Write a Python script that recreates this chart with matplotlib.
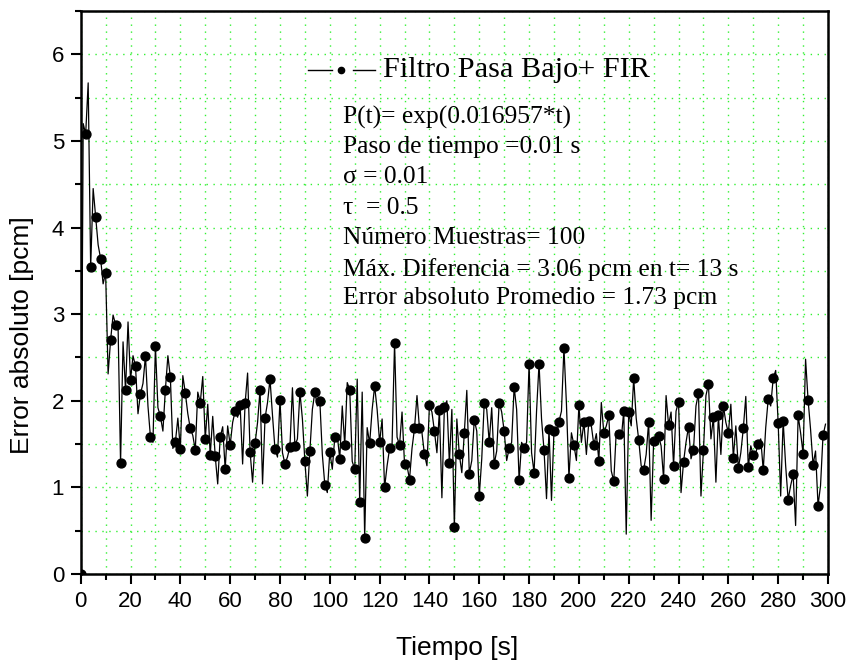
import numpy as np
import matplotlib
matplotlib.use("Agg")
import matplotlib.pyplot as plt
from matplotlib.ticker import MultipleLocator
from matplotlib.lines import Line2D

# Error values at even seconds (t = 0, 2, ..., 298) -> drawn with markers
even_err = [0.00, 5.08, 3.54, 4.12, 3.64, 3.48, 2.70, 2.88, 1.28, 2.12,
            2.24, 2.40, 2.08, 2.52, 1.58, 2.63, 1.82, 2.13, 2.27, 1.52,
            1.44, 2.09, 1.68, 1.43, 1.98, 1.56, 1.37, 1.36, 1.58, 1.21,
            1.49, 1.88, 1.95, 1.97, 1.41, 1.51, 2.13, 1.80, 2.25, 1.44,
            2.01, 1.27, 1.47, 1.48, 2.10, 1.30, 1.42, 2.10, 2.00, 1.03,
            1.41, 1.58, 1.33, 1.49, 2.13, 1.21, 0.83, 0.42, 1.51, 2.17,
            1.52, 1.00, 1.45, 2.67, 1.49, 1.27, 1.09, 1.68, 1.68, 1.38,
            1.95, 1.65, 1.89, 1.93, 1.28, 0.54, 1.38, 1.63, 1.16, 1.78,
            0.90, 1.98, 1.52, 1.27, 1.98, 1.65, 1.45, 2.16, 1.08, 1.46,
            2.43, 1.17, 2.43, 1.43, 1.67, 1.65, 1.76, 2.61, 1.11, 1.49,
            1.95, 1.75, 1.77, 1.49, 1.31, 1.63, 1.83, 1.07, 1.62, 1.88,
            1.87, 2.26, 1.55, 1.20, 1.76, 1.53, 1.59, 1.10, 1.72, 1.25,
            1.99, 1.29, 1.70, 1.43, 2.09, 1.43, 2.19, 1.81, 1.83, 1.94,
            1.63, 1.34, 1.22, 1.68, 1.23, 1.37, 1.50, 1.20, 2.02, 2.26,
            1.74, 1.77, 0.86, 1.15, 1.83, 1.39, 2.01, 1.26, 0.79, 1.60]

# Error values at odd seconds (t = 1, 3, ..., 299) -> line vertices only
odd_err = [5.20, 5.67, 4.45, 3.80, 3.35, 2.31, 2.99, 2.86, 2.68, 2.91,
           2.52, 1.85, 2.20, 1.94, 1.52, 1.92, 1.65, 2.52, 1.45, 1.80,
           2.29, 1.85, 1.60, 2.10, 2.28, 1.96, 1.82, 1.04, 1.70, 1.71,
           1.75, 1.81, 1.27, 2.32, 1.06, 1.75, 1.04, 1.98, 1.83, 1.35,
           1.40, 1.35, 2.15, 1.56, 1.79, 0.90, 1.90, 1.94, 1.38, 0.94,
           1.21, 1.60, 1.94, 2.21, 1.30, 2.25, 2.10, 1.69, 1.90, 1.90,
           1.79, 1.25, 1.50, 1.58, 1.87, 1.25, 1.45, 2.06, 1.63, 1.25,
           1.87, 1.40, 0.88, 2.00, 1.90, 1.79, 1.17, 2.12, 1.31, 1.65,
           1.33, 1.90, 1.92, 1.42, 1.87, 1.31, 1.52, 1.90, 1.52, 1.52,
           1.40, 1.88, 1.79, 0.87, 0.85, 1.60, 1.88, 1.96, 1.63, 1.31,
           1.52, 1.38, 1.71, 1.62, 1.98, 1.71, 1.19, 1.65, 1.56, 0.46,
           1.71, 1.80, 1.25, 1.38, 0.62, 1.52, 1.48, 2.06, 1.87, 1.88,
           0.94, 1.52, 1.33, 1.94, 0.90, 2.06, 1.56, 1.06, 1.38, 1.75,
           1.96, 1.71, 1.40, 2.05, 1.48, 1.40, 1.56, 1.69, 1.94, 2.35,
           0.90, 1.25, 1.02, 0.56, 1.63, 2.48, 1.67, 1.42, 1.02, 1.73]

time = np.arange(0, 300)
error = np.empty(300)
error[0::2] = even_err
error[1::2] = odd_err

legend_label = "Filtro Pasa Bajo+ FIR"
info_lines = ["P(t)= exp(0.016957*t)",
              "Paso de tiempo =0.01 s",
              "σ = 0.01",
              "τ  = 0.5",
              "Número Muestras= 100",
              "Máx. Diferencia = 3.06 pcm en t= 13 s",
              "Error absoluto Promedio = 1.73 pcm"]

W, H = 846, 666
fig = plt.figure(figsize=(W / 100, H / 100), dpi=100)
x0, x1, y0, y1 = 80.7, 828.0, 574.0, 11.0
ax = fig.add_axes([x0 / W, (H - y0) / H, (x1 - x0) / W, (y0 - y1) / H])

ax.plot(time, error, color="black", lw=0.9, marker="o", ms=6.4,
        markevery=2, markerfacecolor="black", markeredgecolor="black",
        zorder=3, clip_on=True)

ax.set_xlim(0, 300)
ax.set_ylim(0, 6.5)
ax.xaxis.set_major_locator(MultipleLocator(20))
ax.xaxis.set_minor_locator(MultipleLocator(10))
ax.yaxis.set_major_locator(MultipleLocator(1))
ax.yaxis.set_minor_locator(MultipleLocator(0.5))

ax.grid(which="both", color="#33f033", linestyle=(0, (1, 4)), lw=1.0, zorder=0)
ax.set_axisbelow(True)

for s in ax.spines.values():
    s.set_linewidth(1.8)
ax.tick_params(which="major", direction="out", length=7, width=1.5,
               labelsize=16, pad=5, top=False, right=False)
ax.tick_params(which="minor", direction="out", length=4, width=1.5,
               top=False, right=False)
for lab in ax.get_xticklabels() + ax.get_yticklabels():
    lab.set_fontfamily("Liberation Sans")

fig.text(457 / W, (H - 648) / H, "Tiempo [s]", ha="center", va="center",
         fontsize=19, family="Liberation Sans")
fig.text(22 / W, (H - 335) / H, "Error absoluto [pcm]", ha="center",
         va="center", rotation=90, fontsize=19, family="Liberation Sans")

def fx(px):
    return (px - x0) / (x1 - x0)

def fy(py):
    return (y0 - py) / (y0 - y1)

# legend entry drawn in axes fraction coordinates
ly = fy(70)
ax.add_line(Line2D([fx(308), fx(332)], [ly, ly], color="black", lw=1.0,
                   transform=ax.transAxes))
ax.add_line(Line2D([fx(341)], [ly], color="black", marker="o", ms=4.5,
                   transform=ax.transAxes))
ax.add_line(Line2D([fx(353), fx(375)], [ly, ly], color="black", lw=1.0,
                   transform=ax.transAxes))
ax.text(fx(383), ly, legend_label, transform=ax.transAxes, ha="left",
        va="center", fontsize=21.8, family="Liberation Serif")

centers = [117, 147, 177, 208, 238, 270, 298]
for line, cy in zip(info_lines, centers):
    ax.text(fx(343), fy(cy), line, transform=ax.transAxes, ha="left",
            va="center", fontsize=18.4, family="Liberation Serif")

fig.savefig("out.png", dpi=100)
